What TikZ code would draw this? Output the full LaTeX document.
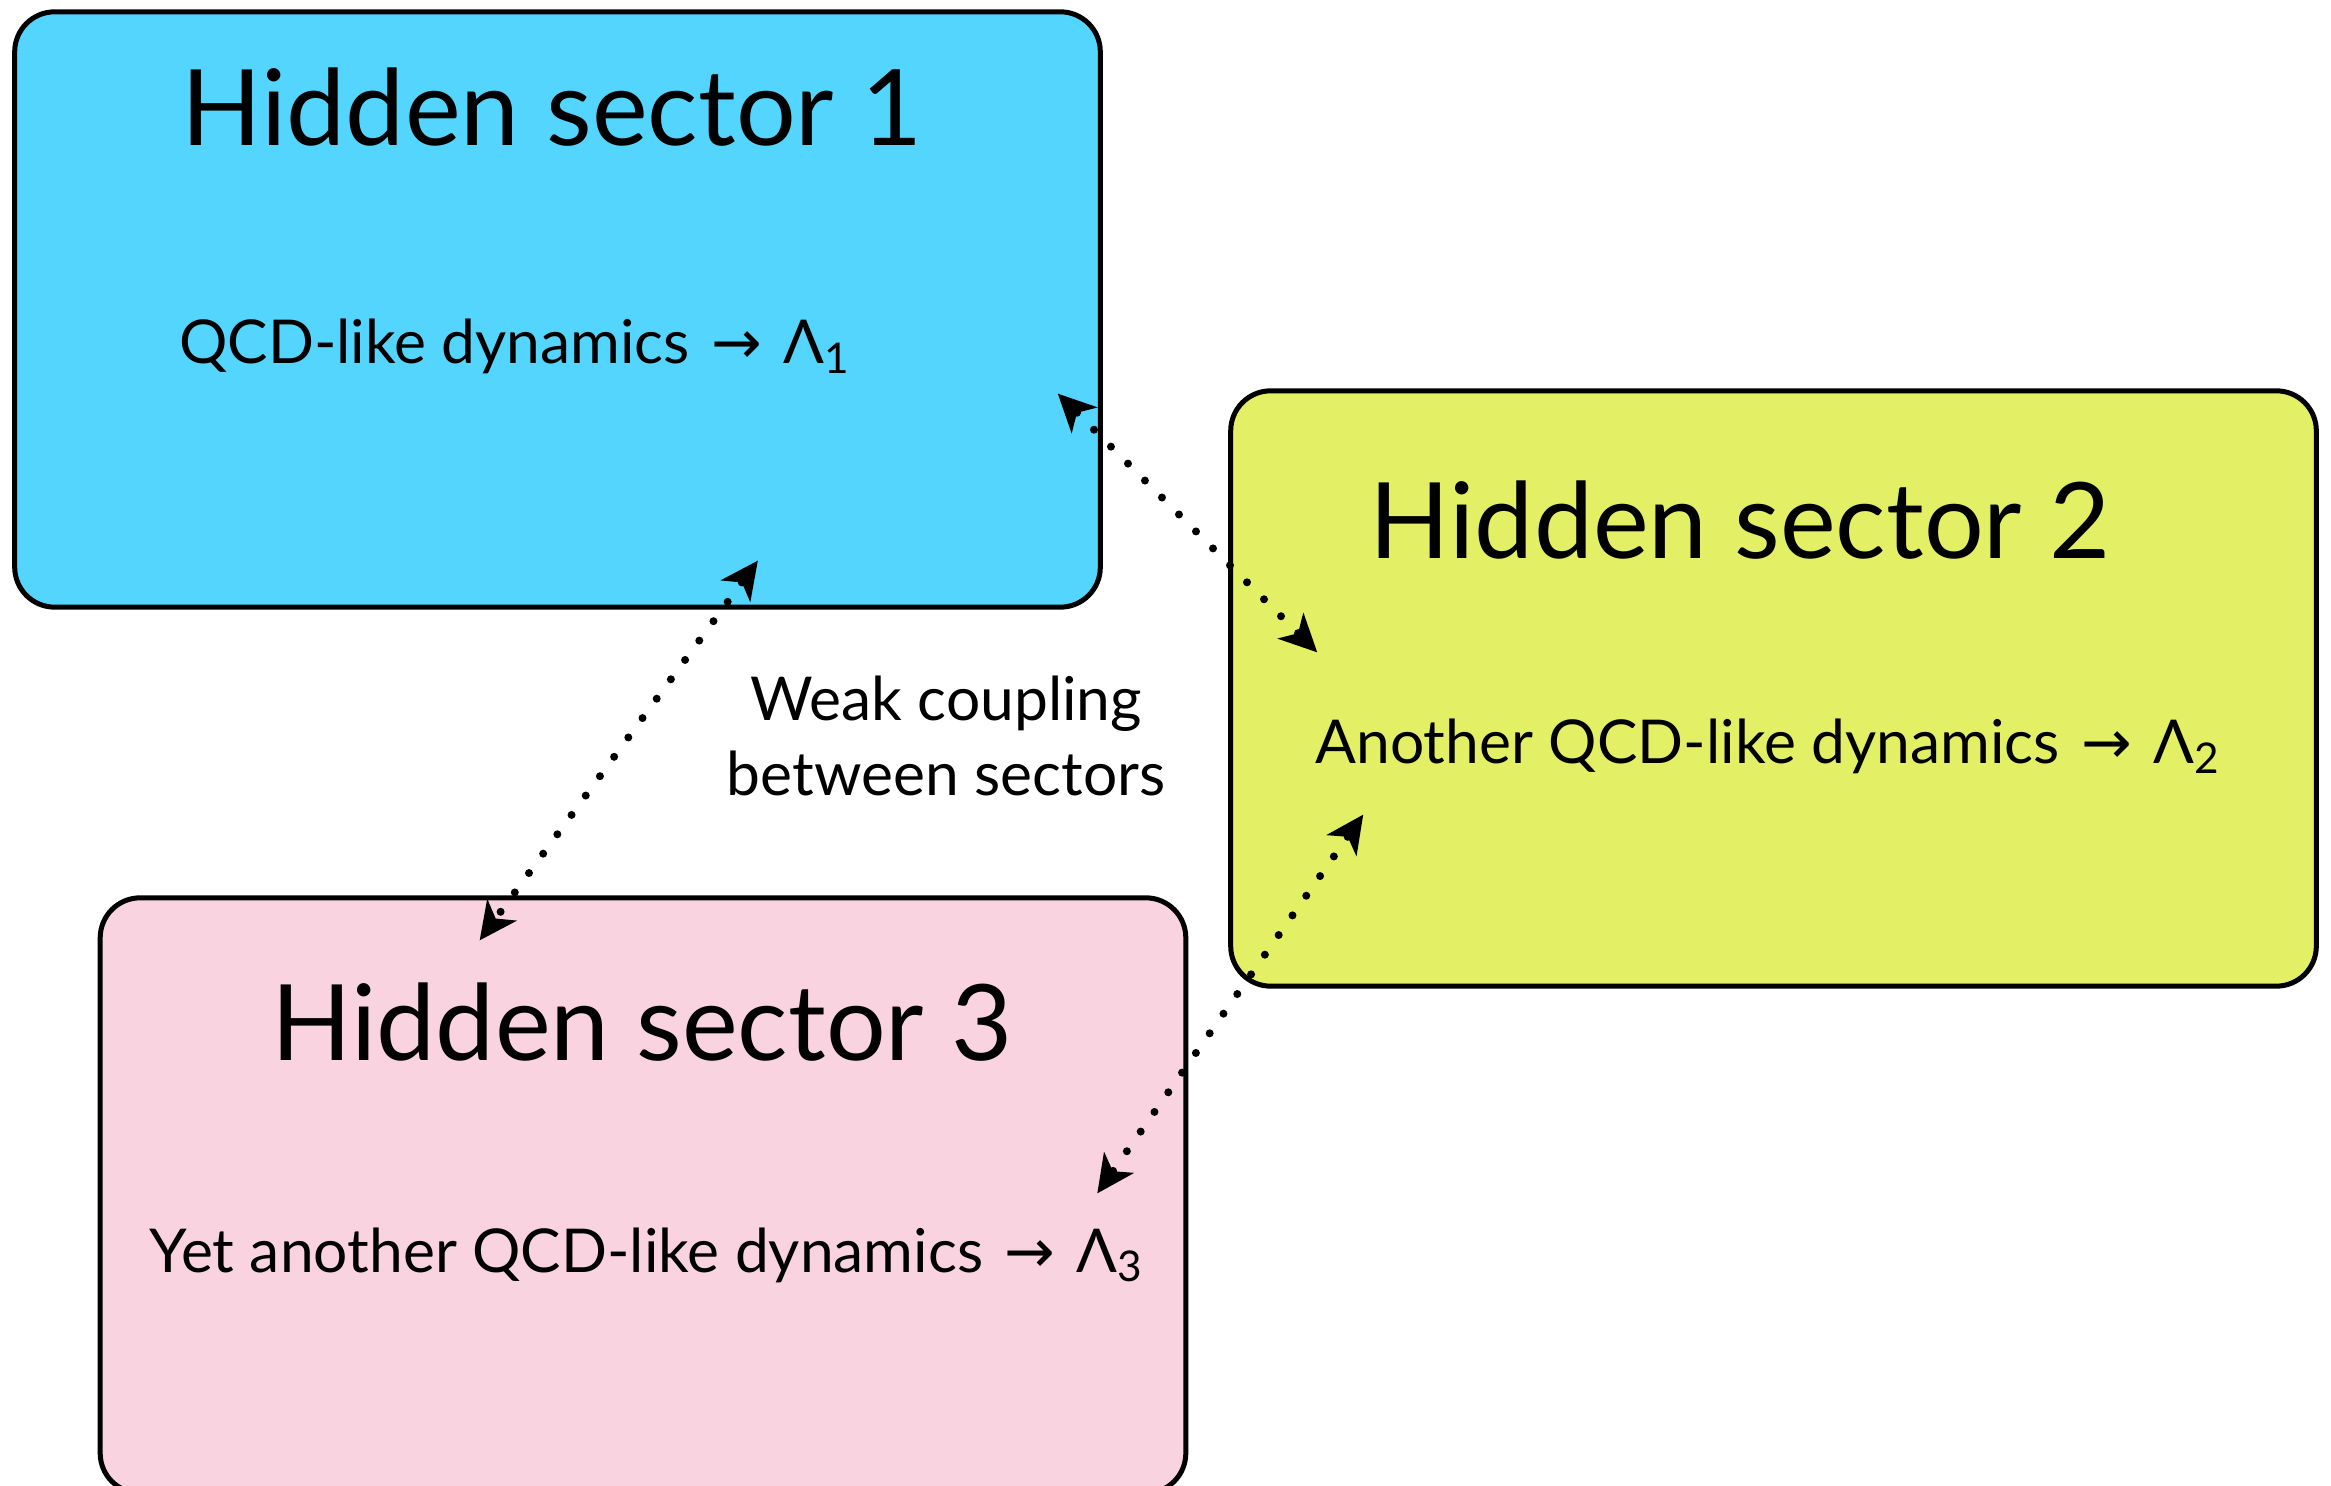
\documentclass[tikz,border=0pt]{standalone}
\usepackage{fontspec}
\setmainfont{Lato}
\newfontfamily\arrowfont{DejaVu Sans}
\usetikzlibrary{arrows.meta,calc}

\definecolor{sectorblue}{RGB}{84,213,254}
\definecolor{sectoryellow}{RGB}{227,239,100}
\definecolor{sectorpink}{RGB}{249,211,224}

% scale of a sector: Lambda with a subscript
\newcommand\lscale[1]{Λ\textsubscript{#1}}
\newcommand\yields{\hspace{0.1em}{\arrowfont →}\hspace{0.1em}}

\begin{document}
\begin{tikzpicture}[x=0.01cm,y=-0.01cm,
  sector/.style={draw=black, line width=0.05cm, rounded corners=0.4cm,
    minimum width=10.85cm, minimum height=5.95cm, inner sep=0pt},
  title/.style={anchor=base, inner sep=0pt, font=\fontsize{30}{36}\selectfont},
  body/.style={anchor=base, inner sep=0pt, font=\fontsize{17.2}{21}\selectfont},
  couplingtip/.style={},
  coupling/.style={line width=0.08cm, line cap=round,
    dash pattern=on 0pt off 0.24cm,
    {Stealth[length=0.38cm,width=0.37cm,inset=0.11cm,line width=0pt]}-{Stealth[length=0.38cm,width=0.37cm,inset=0.11cm,line width=0pt]}}
]
\useasboundingbox (0,0) rectangle (2331,1486);

% the three sectors
\node[sector, fill=sectorblue]   (s1) at (557.5,309.5) {};
\node[sector, fill=sectoryellow] (s2) at (1773.5,688.5) {};
\node[sector, fill=sectorpink]   (s3) at (643,1195.5) {};

% titles and dynamics
\node[title] (t1) at (552,146)  {Hidden sector 1};
\node[title] (t2) at (1740,559) {Hidden sector 2};
\node[title] (t3) at (642,1060) {Hidden sector 3};

\node[body] (d1) at (515,364)  {QCD-like dynamics \yields{} \lscale{1}};
\node[body] (d2) at (1768,764) {Another QCD-like dynamics \yields{} \lscale{2}};
\node[body] (d3) at (647,1272) {Yet another QCD-like dynamics \yields{} \lscale{3}};

% label of the couplings
\node[body] (w1) at (946,721) {Weak coupling};
\node[body] (w2) at (946,795) {between sectors};

% ends of the couplings
\coordinate (c12) at ($(s1.south east)+(-45,-216)$);
\coordinate (c21) at ($(s2.north west)+(89,264)$);
\coordinate (c13) at ($(s1.south east)+(-345,-49)$);
\coordinate (c31) at ($(s3.north west)+(382,45)$);
\coordinate (c23) at ($(s2.south west)+(135,-174)$);
\coordinate (c32) at ($(s3.north east)+(-91,298)$);

\draw[coupling] (c12) -- (c21);
\draw[coupling] (c13) -- (c31);
\draw[coupling] (c23) -- (c32);
\end{tikzpicture}
\end{document}
